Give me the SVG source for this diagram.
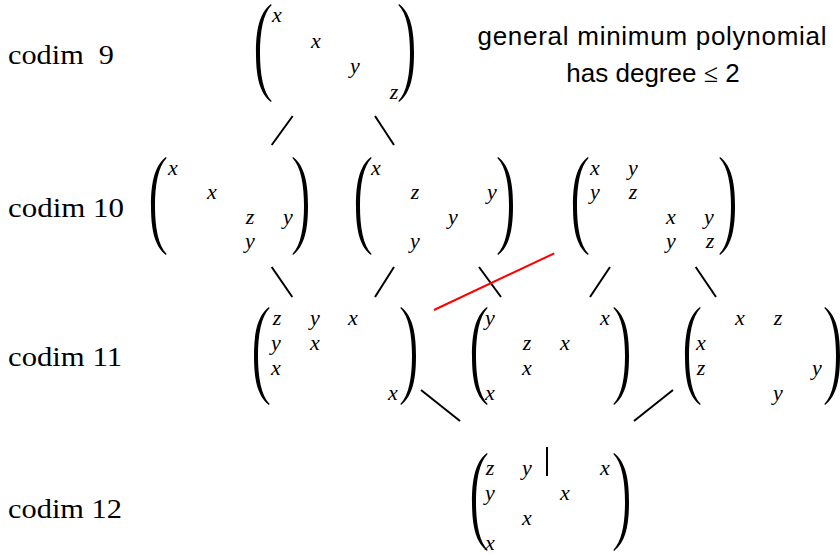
<svg xmlns="http://www.w3.org/2000/svg" xmlns:xlink="http://www.w3.org/1999/xlink" width="840" height="556" viewBox="0 0 840 556">
<style>
.lbl{font-family:"Liberation Serif",serif;font-size:27px;fill:#000;white-space:pre}
.m{font-family:"Liberation Serif",serif;font-style:italic;font-size:22px;fill:#000;text-anchor:middle}
.ss{font-family:"Liberation Sans",sans-serif;font-size:26px;fill:#000;text-anchor:middle}
.e{stroke:#000;stroke-width:2;fill:none}
.r{stroke:#ff0000;stroke-width:2;fill:none}
</style>
<defs>
<path id="lp" d="M16,0 C4,9 1,27 1,49 C1,71 4,89 16,98 L16.6,97 C8,88 5,70 5,49 C5,28 8,10 16.6,1 Z" fill="#000"/>
<path id="rp" d="M0,0 C12,9 15,27 15,49 C15,71 12,89 0,98 L-0.6,97 C8,88 11,70 11,49 C11,28 8,10 -0.6,1 Z" fill="#000"/>
</defs>
<rect width="840" height="556" fill="#fff"/>
<g id="labels">
<text class="lbl" x="8" y="64" textLength="106" lengthAdjust="spacingAndGlyphs">codim  9</text>
<text class="lbl" x="8" y="217" textLength="116" lengthAdjust="spacingAndGlyphs">codim 10</text>
<text class="lbl" x="8" y="366" textLength="114" lengthAdjust="spacingAndGlyphs">codim 11</text>
<text class="lbl" x="8" y="518" textLength="114" lengthAdjust="spacingAndGlyphs">codim 12</text>
</g>
<g id="note">
<text class="ss" x="652" y="45" textLength="349">general minimum polynomial</text>
<text class="ss" x="653" y="82">has degree <tspan font-family="Liberation Serif">≤</tspan> 2</text>
</g>
<g id="connectors">
<line class="e" x1="292.7" y1="116" x2="271.7" y2="145"/>
<line class="e" x1="375" y1="116" x2="394" y2="145"/>
<line class="e" x1="271.7" y1="267" x2="292.3" y2="297"/>
<line class="e" x1="394" y1="267" x2="375" y2="297"/>
<line class="e" x1="479" y1="267" x2="501" y2="297"/>
<line class="e" x1="610" y1="267" x2="590" y2="297"/>
<line class="e" x1="695.7" y1="267" x2="716" y2="297"/>
<line class="e" x1="421" y1="390" x2="460" y2="421"/>
<line class="e" x1="547" y1="447" x2="547" y2="476"/>
<line class="e" x1="673" y1="390" x2="634" y2="421"/>
<line class="r" x1="434" y1="310" x2="554.3" y2="253.3"/>
</g>
<g id="m9">
<use xlink:href="#lp" x="255" y="4"/><use xlink:href="#rp" x="399" y="4"/>
<text class="m" x="277" y="22">x</text>
<text class="m" x="316" y="48">x</text>
<text class="m" x="355" y="73">y</text>
<text class="m" x="394" y="99">z</text>
</g>
<g id="m10a">
<use xlink:href="#lp" x="150" y="157"/><use xlink:href="#rp" x="293" y="157"/>
<text class="m" x="173" y="175">x</text>
<text class="m" x="212" y="199">x</text>
<text class="m" x="250" y="224">z</text>
<text class="m" x="288" y="224">y</text>
<text class="m" x="250" y="248">y</text>
</g>
<g id="m10b">
<use xlink:href="#lp" x="355" y="157"/><use xlink:href="#rp" x="498" y="157"/>
<text class="m" x="376" y="175">x</text>
<text class="m" x="415" y="199">z</text>
<text class="m" x="492" y="199">y</text>
<text class="m" x="453" y="224">y</text>
<text class="m" x="415" y="248">y</text>
</g>
<g id="m10c">
<use xlink:href="#lp" x="572" y="157"/><use xlink:href="#rp" x="720" y="157"/>
<text class="m" x="595" y="175">x</text>
<text class="m" x="633" y="175">y</text>
<text class="m" x="595" y="199">y</text>
<text class="m" x="633" y="199">z</text>
<text class="m" x="671" y="224">x</text>
<text class="m" x="709" y="224">y</text>
<text class="m" x="671" y="248">y</text>
<text class="m" x="710" y="248">z</text>
</g>
<g id="m11a">
<use xlink:href="#lp" x="253" y="307"/><use xlink:href="#rp" x="401" y="307"/>
<text class="m" x="277" y="325">z</text>
<text class="m" x="315" y="325">y</text>
<text class="m" x="353" y="325">x</text>
<text class="m" x="276" y="350">y</text>
<text class="m" x="315" y="350">x</text>
<text class="m" x="276" y="375">x</text>
<text class="m" x="393" y="400">x</text>
</g>
<g id="m11b">
<use xlink:href="#lp" x="471" y="307"/><use xlink:href="#rp" x="614" y="307"/>
<text class="m" x="490" y="325">y</text>
<text class="m" x="605" y="325">x</text>
<text class="m" x="527" y="350">z</text>
<text class="m" x="565" y="350">x</text>
<text class="m" x="527" y="375">x</text>
<text class="m" x="490" y="400">x</text>
</g>
<g id="m11c">
<use xlink:href="#lp" x="684" y="307"/><use xlink:href="#rp" x="825" y="307"/>
<text class="m" x="740" y="325">x</text>
<text class="m" x="778" y="325">z</text>
<text class="m" x="701" y="350">x</text>
<text class="m" x="701" y="375">z</text>
<text class="m" x="817" y="375">y</text>
<text class="m" x="778" y="400">y</text>
</g>
<g id="m12">
<use xlink:href="#lp" x="471" y="453"/><use xlink:href="#rp" x="614" y="453"/>
<text class="m" x="490" y="475">z</text>
<text class="m" x="527" y="475">y</text>
<text class="m" x="605" y="475">x</text>
<text class="m" x="490" y="500">y</text>
<text class="m" x="565" y="500">x</text>
<text class="m" x="527" y="525">x</text>
<text class="m" x="490" y="550">x</text>
</g>
</svg>
